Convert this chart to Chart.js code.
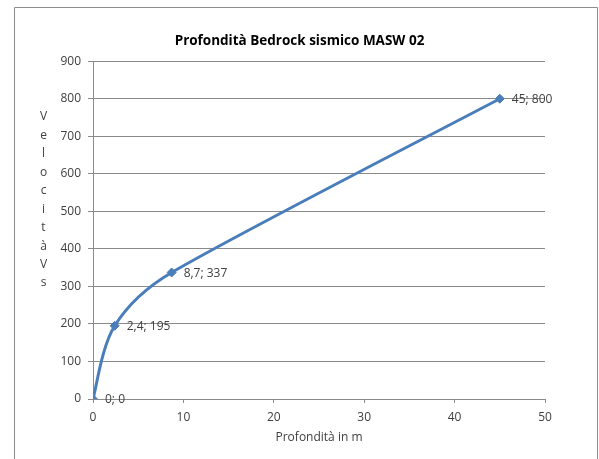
<!DOCTYPE html>
<html>
<head>
<meta charset="utf-8">
<script src="https://cdn.jsdelivr.net/npm/chart.js@4/dist/chart.umd.min.js"></script>
<style>
  html, body { margin: 0; padding: 0; background: #ffffff; }
  #wrap { width: 599px; height: 459px; position: relative; }
</style>
</head>
<body>
<div id="wrap"><canvas id="c" width="599" height="459"></canvas></div>
<script>
// ---- Data ----
const depths = [0, 2.4, 8.7, 45];          // Profondità (m)
const velocities = [0, 195, 337, 800];     // Velocità Vs
const pointLabels = ["0; 0", "2,4; 195", "8,7; 337", "45; 800"];
const xTicks = [0, 10, 20, 30, 40, 50];
const yTicks = [0, 100, 200, 300, 400, 500, 600, 700, 800, 900];
const chartTitle = "Profondità Bedrock sismico MASW 02";
const xTitle = "Profondità in m";
const yTitle = "Velocità Vs";

const FONT = "'Open Sans', 'Liberation Sans', sans-serif";
const GRID = '#8a8a8a';
const LINE = '#4A7EBB';

const points = depths.map((d, i) => ({ x: d, y: velocities[i] }));

const framePlugin = {
  id: 'frame',
  beforeDraw(chart) {
    const ctx = chart.ctx;
    ctx.save();
    ctx.fillStyle = '#ffffff';
    ctx.fillRect(0, 0, chart.width, chart.height);
    ctx.strokeStyle = '#8c8c8c';
    ctx.lineWidth = 1;
    ctx.beginPath();
    ctx.moveTo(14.5, 470);
    ctx.lineTo(14.5, 7.5);
    ctx.lineTo(597.5, 7.5);
    ctx.lineTo(597.5, 470);
    ctx.stroke();
    ctx.restore();
  }
};

// Spreadsheet-style smoothing: Catmull-Rom handles (1/6 of neighbour span),
// each handle capped at 1/3 of its adjacent segment length.
const smoothPlugin = {
  id: 'spreadsheetSmooth',
  beforeDatasetDraw(chart, args) {
    const meta = args.meta;
    const line = meta.dataset;
    if (!line || !line.updateControlPoints) return;
    line.updateControlPoints(chart.chartArea, 'x');
    const pts = meta.data;
    const n = pts.length;
    const dist = (a, b) => Math.hypot(b.x - a.x, b.y - a.y);
    for (let i = 0; i < n; i++) {
      const p = pts[i];
      const prev = pts[Math.max(i - 1, 0)];
      const next = pts[Math.min(i + 1, n - 1)];
      const dx = (next.x - prev.x) / 6;
      const dy = (next.y - prev.y) / 6;
      const h = Math.hypot(dx, dy) || 1;
      const inLen = Math.min(h, dist(prev, p) / 3);
      const outLen = Math.min(h, dist(p, next) / 3);
      p.cp1x = p.x - dx / h * inLen; p.cp1y = p.y - dy / h * inLen;
      p.cp2x = p.x + dx / h * outLen; p.cp2y = p.y + dy / h * outLen;
    }
    line._path = undefined;
  }
};

const yTitlePlugin = {
  id: 'yTitleVertical',
  afterDraw(chart) {
    const ctx = chart.ctx;
    const letters = yTitle.replace(/\s+/g, '').split('');
    ctx.save();
    ctx.fillStyle = '#404040';
    ctx.font = "12px " + FONT;
    ctx.textAlign = 'center';
    ctx.textBaseline = 'middle';
    const startY = 117, step = 18.45;
    letters.forEach((ch, i) => ctx.fillText(ch, 43.5, startY + i * step));
    ctx.restore();
  }
};

const dataLabelPlugin = {
  id: 'dataLabels',
  afterDatasetsDraw(chart) {
    const ctx = chart.ctx;
    const meta = chart.getDatasetMeta(0);
    ctx.save();
    ctx.fillStyle = '#404040';
    ctx.font = "12px " + FONT;
    ctx.textAlign = 'left';
    ctx.textBaseline = 'middle';
    meta.data.forEach((pt, i) => {
      ctx.fillText(pointLabels[i], pt.x + 12, pt.y + 1);
    });
    ctx.restore();
  }
};

new Chart(document.getElementById('c'), {
  type: 'line',
  data: {
    datasets: [{
      label: 'Vs',
      data: points,
      borderColor: LINE,
      backgroundColor: LINE,
      borderWidth: 3,
      tension: 0.4,
      fill: false,
      pointStyle: 'rectRot',
      pointRadius: 4.5,
      pointHoverRadius: 4.5,
      pointBackgroundColor: LINE,
      pointBorderColor: LINE,
      pointBorderWidth: 1
    }]
  },
  options: {
    responsive: false,
    animation: false,
    devicePixelRatio: 1,
    layout: { padding: { left: 0, right: 0, top: 0, bottom: 0 } },
    plugins: {
      legend: { display: false },
      tooltip: { enabled: false },
      title: {
        display: true,
        text: chartTitle,
        color: '#000000',
        font: { family: FONT, size: 13.5, weight: 'bold' },
        padding: { top: 33, bottom: 12 }
      }
    },
    scales: {
      x: {
        type: 'linear',
        min: 0, max: 50,
        afterBuildTicks(scale) { scale.ticks = xTicks.map(v => ({ value: v })); },
        afterFit(scale) { scale.height = 60; },
        grid: {
          display: true,
          drawOnChartArea: false,
          drawTicks: true,
          tickLength: 4,
          color: GRID
        },
        border: { display: true, color: GRID, width: 1 },
        ticks: {
          color: '#404040',
          font: { family: FONT, size: 12 },
          padding: 7
        },
        title: {
          display: true,
          text: xTitle,
          color: '#404040',
          font: { family: FONT, size: 12 },
          padding: { top: 2, bottom: 14 }
        }
      },
      y: {
        type: 'linear',
        min: 0, max: 900,
        afterBuildTicks(scale) { scale.ticks = yTicks.map(v => ({ value: v })); },
        afterFit(scale) { scale.width = 93; },
        grid: {
          display: true,
          drawOnChartArea: true,
          drawTicks: true,
          tickLength: 5,
          color: GRID
        },
        border: { display: true, color: GRID, width: 1 },
        ticks: {
          color: '#404040',
          font: { family: FONT, size: 12 },
          padding: 7
        },
        title: { display: false }
      },
      yRightSpace: {
        type: 'linear',
        position: 'right',
        display: true,
        min: 0, max: 900,
        afterFit(scale) { scale.width = 54; },
        grid: { display: false, drawOnChartArea: false, drawTicks: false },
        border: { display: false },
        ticks: { display: false },
        title: { display: false }
      }
    }
  },
  plugins: [framePlugin, smoothPlugin, yTitlePlugin, dataLabelPlugin]
});
</script>
</body>
</html>
